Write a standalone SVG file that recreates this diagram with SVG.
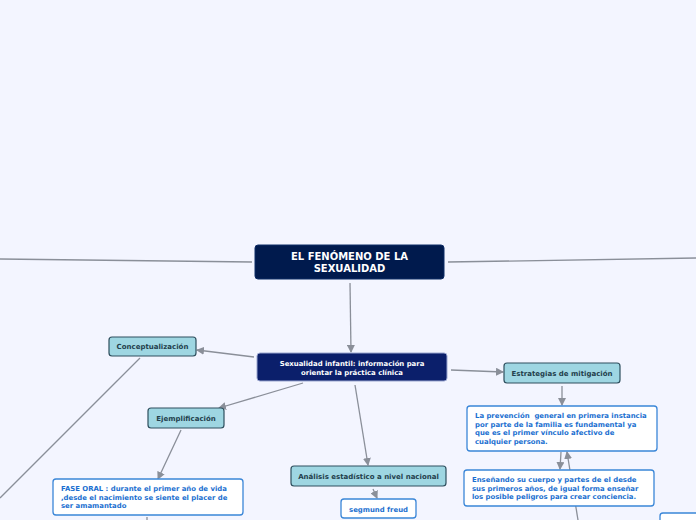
<svg xmlns="http://www.w3.org/2000/svg" width="696" height="520" viewBox="0 0 696 520">
<defs>
<marker id="arr" markerWidth="8" markerHeight="8" refX="7" refY="4" orient="auto" markerUnits="userSpaceOnUse">
<path d="M0,0 L8,4 L0,8 Z" fill="#8a8f99"/>
</marker>
<style>
.con{stroke:#8a8f99;stroke-width:1.3;fill:none}
.root{fill:#001a4d;stroke:#0d2c66;stroke-width:1}
.main{fill:#0b1f6b;stroke:#9aa6d0;stroke-width:1}
.sub{fill:#9ed6e2;stroke:#2e4f5e;stroke-width:1.2}
.leaf{fill:#ffffff;stroke:#3a86d8;stroke-width:1.3}
text{font-family:"DejaVu Sans",Verdana,sans-serif;font-weight:bold}
.tr{fill:#ffffff;font-size:10px}
.tm{fill:#ffffff;font-size:6.9px}
.ts{fill:#23404c;font-size:7px}
.tl{fill:#1a6fd0;font-size:6.9px;white-space:pre}
</style>
</defs>
<rect x="0" y="0" width="696" height="520" fill="#f3f5ff"/>
<g id="connectors">
<line class="con" x1="0" y1="259" x2="252" y2="262"/>
<line class="con" x1="448" y1="262" x2="696" y2="258"/>
<line class="con" x1="350" y1="283" x2="351" y2="352" marker-end="url(#arr)"/>
<line class="con" x1="254" y1="357" x2="197" y2="350" marker-end="url(#arr)"/>
<line class="con" x1="140" y1="358" x2="0" y2="498"/>
<line class="con" x1="451" y1="370" x2="503" y2="372" marker-end="url(#arr)"/>
<line class="con" x1="303" y1="383" x2="219" y2="408" marker-end="url(#arr)"/>
<line class="con" x1="355" y1="385" x2="368" y2="465" marker-end="url(#arr)"/>
<line class="con" x1="373" y1="489" x2="377" y2="498" marker-end="url(#arr)"/>
<line class="con" x1="181" y1="430" x2="158" y2="479" marker-end="url(#arr)"/>
<line class="con" x1="147" y1="517" x2="147" y2="520"/>
<line class="con" x1="562" y1="386" x2="562" y2="405" marker-end="url(#arr)"/>
<line class="con" x1="561" y1="452" x2="560" y2="469" marker-end="url(#arr)"/>
<line class="con" x1="578" y1="520" x2="567" y2="452" marker-end="url(#arr)"/>
</g>
<g id="root">
<rect class="root" x="255" y="245" width="189" height="34" rx="3"/>
<text class="tr" x="349.5" y="260" text-anchor="middle">EL FENÓMENO DE LA</text>
<text class="tr" x="349.5" y="272" text-anchor="middle">SEXUALIDAD</text>
</g>
<g id="main">
<rect class="main" x="257" y="353" width="190" height="28" rx="3"/>
<text class="tm" x="352" y="366" text-anchor="middle">Sexualidad infantil: información para</text>
<text class="tm" x="352" y="374.5" text-anchor="middle">orientar la práctica clínica</text>
</g>
<g id="conceptualizacion">
<rect class="sub" x="109" y="337" width="87" height="19" rx="3"/>
<text class="ts" x="152.5" y="349" text-anchor="middle">Conceptualización</text>
</g>
<g id="estrategias">
<rect class="sub" x="504" y="363" width="116" height="20" rx="3"/>
<text class="ts" x="562" y="376" text-anchor="middle">Estrategias de mitigación</text>
</g>
<g id="ejemplificacion">
<rect class="sub" x="148" y="408" width="76" height="20" rx="3"/>
<text class="ts" x="186" y="421" text-anchor="middle">Ejemplificación</text>
</g>
<g id="analisis">
<rect class="sub" x="291" y="466" width="155" height="20" rx="3"/>
<text class="ts" x="368.5" y="479" text-anchor="middle">Análisis estadístico a nivel nacional</text>
</g>
<g id="freud">
<rect class="leaf" x="341" y="499" width="75" height="19" rx="3"/>
<text class="tl" x="378.5" y="511.5" text-anchor="middle">segmund freud</text>
</g>
<g id="fase-oral">
<rect class="leaf" x="53" y="479" width="190" height="36" rx="3"/>
<text class="tl" x="61" y="491">FASE ORAL : durante el primer año de vida</text>
<text class="tl" x="61" y="499.5">,desde el nacimiento se siente el placer de</text>
<text class="tl" x="61" y="508">ser amamantado</text>
</g>
<g id="prevencion">
<rect class="leaf" x="467" y="406" width="190" height="45" rx="3"/>
<text class="tl" x="475" y="418">La prevención  general en primera instancia</text>
<text class="tl" x="475" y="426.5">por parte de la familia es fundamental ya</text>
<text class="tl" x="475" y="435">que es el primer vínculo afectivo de</text>
<text class="tl" x="475" y="443.5">cualquier persona.</text>
</g>
<g id="ensenando">
<rect class="leaf" x="464" y="470" width="190" height="36" rx="3"/>
<text class="tl" x="472" y="482">Enseñando su cuerpo y partes de el desde</text>
<text class="tl" x="472" y="490.5">sus primeros años, de igual forma enseñar</text>
<text class="tl" x="472" y="499">los posible peligros para crear conciencia.</text>
</g>
<g id="offscreen-node">
<rect class="leaf" x="660" y="513" width="50" height="20" rx="3"/>
</g>
</svg>
